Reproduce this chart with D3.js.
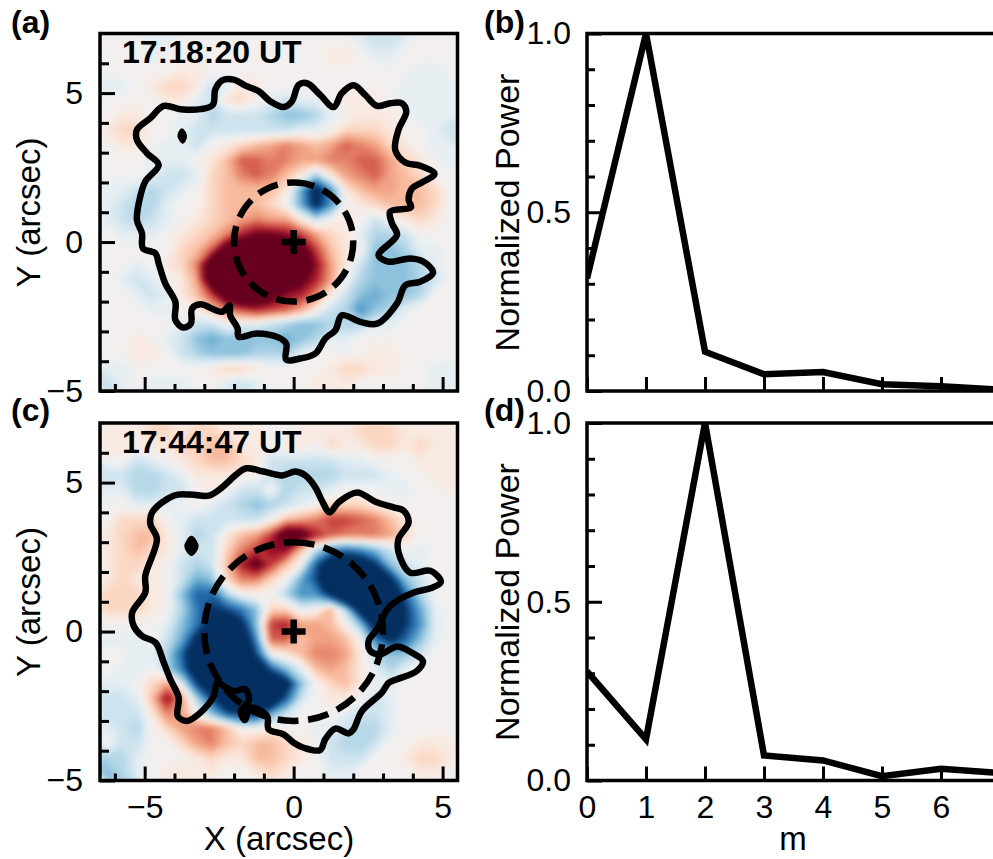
<!DOCTYPE html>
<html>
<head>
<meta charset="utf-8">
<script src="https://cdn.jsdelivr.net/npm/d3@7"></script>
<style>
html, body { margin: 0; padding: 0; background: #fff; overflow: hidden; }
text { font-family: "Liberation Sans", Arial, sans-serif; fill: #000; }
</style>
</head>
<body>
<script>
// intensity maps, tenths of full scale, 0.5 arcsec cells, top row first
var mapA = [
[ 0, 0, 0,-1,-1, 0, 0, 0, 0, 0, 0, 0, 0, 0, 0, 0, 0,-1,-2,-2,-1, 0, 0, 0],
[ 0, 0, 0,-1, 0, 0, 0, 0, 0, 0, 0, 0, 0, 0, 0, 1, 1, 0,-1,-1, 0, 0, 0, 0],
[ 0, 0, 0, 0, 0, 1, 1, 0, 0, 0, 0, 0, 0, 0, 0, 0, 0, 0, 0, 0, 0,-1,-1, 0],
[-1,-1, 0, 1, 2, 2, 1,-2,-1, 1, 1, 0, 0, 0, 0, 0, 0, 0, 0, 0,-1,-1,-1,-1],
[ 0, 0, 0, 0, 1, 1,-1,-2, 1, 2, 0,-1,-2,-1,-1, 0, 1, 1, 1, 0,-1,-1,-1,-1],
[ 0, 1, 1, 0, 0,-1,-1,-3,-2,-2,-2,-3,-4,-4,-3,-1, 0, 1, 1, 1, 0,-1,-1,-1],
[ 1, 2, 2, 0, 0,-1,-2,-2,-2,-2,-2,-2,-2,-1,-1, 0, 2, 2, 2, 1, 0, 0,-1,-2],
[ 0, 1, 1, 0,-1,-1,-2, 0, 1, 2, 3, 4, 5, 4, 3, 4, 6, 5, 4, 2, 1, 0,-1,-1],
[ 0, 0, 0,-1,-1,-1, 0, 1, 3, 6, 6, 5, 5, 4, 4, 5, 5, 6, 6, 4, 2, 1, 0,-1],
[ 0, 0, 0,-1,-2,-2,-1, 2, 3, 5, 6, 5, 3, 1,-3, 1, 4, 5, 6, 4, 3, 2, 0, 0],
[-1,-1,-2,-3,-2,-1, 0, 2, 3, 3, 3, 3, 1,-5,-12,-6, 1, 3, 4, 4, 3, 3, 2, 0],
[-1,-2,-3,-3,-1, 0, 0, 2, 3, 3, 3, 2, 0,-5,-11,-6, 0, 1, 2, 3, 3, 3, 2, 0],
[-1,-2,-3,-2,-1, 0, 1, 2, 3, 4, 5, 4, 4, 1,-2, 0, 1, 0,-2, 0, 1, 2, 1, 0],
[ 0,-1,-1,-1, 0, 1, 2, 3, 5, 8,10,10, 9, 7, 4, 2, 1,-1,-3,-3,-2, 0, 0, 0],
[ 0, 0, 0, 0, 0, 2, 3, 6,13,16,16,16,16,12, 7, 3, 1, 0,-4,-4,-3,-1,-1, 0],
[ 0, 0,-1, 0, 1, 2, 5,14,18,18,18,18,17,14, 9, 4, 1,-2,-4,-4,-4,-3,-1, 0],
[ 0,-1,-2,-1, 0, 1, 4,14,18,18,18,18,15,11, 8, 4, 0,-3,-4,-4,-4,-3,-2, 0],
[ 0, 0,-1,-2,-1, 1, 3, 7,14,16,15,12, 9, 8, 5, 1,-2,-4,-5,-4,-4,-3, 0, 0],
[ 0, 0, 0,-1,-1, 0, 1, 3, 5, 7, 8, 7, 6, 4, 1,-2,-3,-6,-4,-3,-1, 0, 0, 0],
[ 0, 0, 0, 0, 0,-1,-2,-2, 0,-1,-1,-2,-3,-4,-4,-3,-3,-3,-1,-1, 0, 0, 0, 0],
[ 0, 0, 1, 0,-1,-2,-4,-5,-4,-4,-4,-4,-5,-4,-3,-1,-1, 0, 0, 0, 0, 0, 0, 0],
[ 0, 0, 1, 1, 0,-2,-3,-4,-4,-4,-3,-3,-3,-1, 0, 0, 0, 0, 1, 1, 0, 0, 0, 0],
[-1,-1, 0, 0, 0, 0, 0, 1, 2, 2, 1, 0, 0, 0, 0, 1, 2, 2, 1, 1, 0, 0,-1,-1],
[-2,-1, 0,-1,-1,-1, 0, 0,-1,-2,-1, 0, 0, 0, 1, 1, 1, 0, 0, 0, 0, 0,-1,-1]
];
var mapC = [
[ 1, 1, 1, 2, 2, 1, 2, 2, 1, 1, 1, 0, 0, 1, 1, 1, 1, 2, 2, 2, 1, 1, 1, 1],
[ 1, 1, 1, 1, 1, 2, 2, 3, 3, 1, 1, 0, 1, 1, 0, 2, 1, 1, 2, 2, 1, 2, 1, 1],
[ 0, 0,-2,-1, 0, 1, 2, 3, 3, 2, 1,-2,-2,-2,-2,-2,-1,-1, 0, 0, 0, 1, 1, 1],
[-2,-2,-3,-3,-2,-1, 1, 1, 1, 1, 0,-2,-3,-3,-3,-3,-2,-2,-2,-1, 0, 0, 1, 1],
[-1,-1,-3,-3,-2,-2, 0, 1, 0,-2,-2, 0,-3,-2,-2,-1, 0, 0, 0,-1,-1, 0, 0, 1],
[ 0, 0,-1,-1,-1, 0, 0,-1,-2,-3,-4,-3,-2,-1, 0, 2, 2, 2, 1, 0, 0, 0, 0, 0],
[ 0, 2, 2, 2, 0,-1,-2,-2,-2,-2,-2, 0, 3, 4, 5, 7, 7, 6, 5, 3, 1, 0, 0, 0],
[ 1, 2, 3, 3, 1,-1,-3,-2, 1, 3, 4, 7,13,12, 8, 6, 5, 5, 5, 4, 2, 0, 0, 0],
[ 1, 2, 3, 2, 1,-1,-2,-2, 2, 5, 7, 9, 9, 3,-2,-6,-7,-6,-4,-2, 0,-1, 0, 0],
[ 1, 2, 2, 1, 0,-2,-3,-2, 3, 8,11, 7, 3, 0,-8,-14,-16,-14,-10,-4,-2,-1, 0, 0],
[ 1, 2, 1, 1, 0,-2,-5,-4, 2, 5, 5, 2, 0,-5,-9,-18,-20,-20,-18,-11,-4,-2, 0, 0],
[ 2, 2, 2, 1, 0,-4,-8,-8,-3, 0, 0, 0,-3,-6,-6,-11,-18,-20,-20,-16,-8,-3, 0, 0],
[ 2, 2, 2, 1, 0,-3,-7,-10,-9,-7,-4, 2, 2,-1, 0, 3,-3,-13,-20,-18,-10,-5,-1, 0],
[ 0, 0, 0, 0,-1,-4,-7,-12,-14,-11,-4, 7, 8, 4, 4, 3, 0,-4,-13,-16,-10,-6,-1, 0],
[-1,-1,-1, 0,-2,-5,-11,-17,-18,-15,-6, 6, 6, 3, 4, 4, 3, 0,-7,-11,-8,-4,-1, 0],
[ 0, 0,-1,-1,-3,-8,-15,-20,-16,-16,-9, 0, 1, 3, 5, 5, 4, 1,-3,-4,-4,-2, 0, 0],
[ 0,-1,-1, 0,-3,-7,-14,-20,-20,-20,-15,-8,-4,-1, 3, 4, 3, 1,-1,-3,-1, 0, 0, 0],
[-1,-1, 0, 2, 4,-1,-9,-17,-20,-20,-20,-18,-12,-4, 0, 2, 3, 1,-1,-1, 0, 0, 0, 0],
[-2,-2,-1, 3, 9, 4,-3,-9,-17,-20,-20,-16,-8,-2, 0, 1, 1, 0,-2,-1, 0, 0, 0, 0],
[-2,-2,-2, 1, 5, 4, 0,-4,-8,-10,-10,-5,-2, 0, 0, 0,-1,-2,-2,-1, 0, 0, 0, 0],
[-1,-2,-3, 0, 2, 4, 5, 5, 3, 0, 0, 1, 0, 0,-1,-1,-2,-3,-3,-1, 0, 0, 0, 0],
[ 0,-2,-2, 0, 0, 2, 4, 5, 3, 2, 3, 3, 2, 1, 0,-2,-3,-3,-2, 0, 0, 1, 1, 1],
[-3,-3,-1, 0, 0, 0, 1, 2, 1, 1, 3, 3, 2, 1, 0,-2,-2,-2, 0, 0, 1, 2, 2, 1],
[-4,-3,-1, 0, 1, 1, 1, 1, 0, 0, 1, 2, 1, 0, 0,-1,-1, 0, 0, 0, 0, 1, 1, 0]
];

// umbra outline, arcsec
var outlineA = [[-2.63,5.12],[-2.40,5.43],[-2.01,5.45],[-1.62,5.25],[-1.17,5.06],[-.78,4.72],[-.34,4.53],[-.06,4.72],[.17,5.28],[.45,5.33],[.89,4.94],[1.34,4.53],[1.62,5.0],[2.01,5.26],[2.40,4.94],[2.80,4.57],[3.24,4.66],[3.63,4.66],[3.78,4.38],[3.52,3.77],[3.41,3.09],[3.75,2.67],[4.25,2.56],[4.73,2.29],[4.36,2.03],[3.97,1.80],[3.86,1.41],[3.94,1.17],[3.24,1.02],[3.30,.63],[3.47,.24],[2.85,-.44],[3.19,-.66],[3.91,-.55],[4.36,-.66],[4.68,-1.03],[4.25,-1.33],[3.75,-1.45],[3.47,-2.06],[2.80,-2.74],[2.24,-2.68],[1.62,-2.46],[1.40,-2.96],[1.06,-3.24],[.73,-3.74],[.22,-3.91],[-.25,-3.95],[-.25,-3.41],[-.50,-3.21],[-1.23,-3.07],[-1.85,-3.18],[-1.88,-2.90],[-2.13,-2.46],[-2.15,-2.12],[-2.40,-2.34],[-3.13,-2.09],[-3.41,-2.23],[-3.45,-2.74],[-3.71,-2.87],[-3.97,-2.62],[-3.97,-2.01],[-4.31,-1.39],[-4.53,-.72],[-4.64,-.38],[-5.06,-.21],[-5.09,.29],[-5.26,.74],[-5.15,1.52],[-4.98,2.03],[-4.53,2.59],[-4.92,2.98],[-5.26,3.43],[-5.26,3.77],[-4.81,4.16],[-4.36,4.57],[-3.80,4.46],[-3.13,4.46],[-2.71,4.61]];
var outlineC = [[-4.75,4.0],[-4.03,4.56],[-3.47,4.60],[-2.85,4.56],[-2.40,4.84],[-1.96,5.24],[-1.59,5.48],[-1.01,5.37],[-.39,5.24],[.06,5.37],[.39,5.24],[.73,4.84],[.95,4.39],[1.21,4.0],[1.51,4.34],[2.13,4.67],[2.74,4.36],[3.36,4.17],[3.69,4.06],[3.86,3.67],[3.52,3.11],[3.52,2.66],[3.91,1.98],[4.59,2.04],[4.94,1.67],[4.59,1.45],[4.03,1.31],[3.24,.86],[3.02,.53],[2.80,.08],[2.52,-.31],[2.57,-.65],[2.91,-.76],[3.47,-.50],[3.97,-.71],[4.34,-.99],[4.14,-1.32],[3.47,-1.60],[3.19,-1.72],[2.96,-2.05],[2.29,-2.67],[2.01,-3.28],[1.85,-3.42],[1.40,-3.26],[1.06,-3.62],[.89,-3.98],[.34,-3.90],[0,-3.73],[-.34,-3.45],[-.84,-3.28],[-.89,-2.84],[-1.45,-2.56],[-1.64,-2.97],[-1.77,-2.67],[-1.51,-2.33],[-1.62,-1.94],[-2.01,-2.0],[-2.35,-1.83],[-2.57,-1.72],[-2.68,-2.16],[-3.13,-2.72],[-3.58,-3.0],[-3.89,-2.84],[-3.86,-2.22],[-4.14,-1.60],[-4.36,-1.04],[-4.64,-.37],[-5.09,-.15],[-5.37,.19],[-5.42,.64],[-4.98,1.31],[-4.98,1.87],[-4.59,3.11],[-4.81,3.61]];
var spotA = [[-3.75,3.78],[-3.62,3.56],[-3.72,3.34],[-3.86,3.56]];
var spotC = [[-3.43,3.17],[-3.23,2.86],[-3.43,2.58],[-3.63,2.86]];

// normalized power against mode number
var modes = [0, 1, 2, 3, 4, 5, 6, 7];
var powerB = [0.315, 1.0, 0.11, 0.047, 0.053, 0.019, 0.013, 0.004];
var powerD = [0.305, 0.115, 1.0, 0.07, 0.056, 0.012, 0.033, 0.021];

var modeTicks = [0, 1, 2, 3, 4, 5, 6];
var mapXTicks = [-5, 0, 5];
var mapXMinor = [-6, -4, -3, -2, -1, 1, 2, 3, 4];
var mapYTicks = [-5, 0, 5];
var mapYMinor = [-4, -3, -2, -1, 1, 2, 3, 4, 6];
var powerYTicks = [0, 0.5, 1];
var powerYMinor = [0.1, 0.2, 0.3, 0.4, 0.6, 0.7, 0.8, 0.9];

var FONT = 32;
var svg = d3.select("body").append("svg")
    .attr("width", 993).attr("height", 859)
    .style("display", "block");
var defs = svg.append("defs");
defs.append("filter").attr("id", "soft")
    .attr("x", "-5%").attr("y", "-5%").attr("width", "110%").attr("height", "110%")
    .attr("color-interpolation-filters", "sRGB")
    .append("feGaussianBlur").attr("stdDeviation", 2.4);

var color = d3.scaleSequential(function(t) { return d3.interpolateRdBu(1 - t); })
    .domain([-1, 1]).clamp(true);
var minus = function(d) { return String(d).replace("-", "\u2212"); };

function styleAxis(g, size) {
    g.select(".domain").remove();
    g.selectAll("line").attr("stroke", "#000").attr("stroke-width", 3);
    g.selectAll("text").style("font-size", size + "px").style("font-family", '"Liberation Sans"');
}

function mapPanel(id, top, grid, outline, spot, radius, stamp, showX) {
    var x = d3.scaleLinear().domain([-6.5, 5.5]).range([100, 457.5]);
    var y = d3.scaleLinear().domain([-5, 7]).range([top + 357.5, top]);
    var g = svg.append("g");

    defs.append("clipPath").attr("id", "clip" + id)
        .append("rect").attr("x", 100).attr("y", top).attr("width", 357.5).attr("height", 357.5);

    // filled bands of the map, grid units go through the same scales
    var nx = grid[0].length, ny = grid.length;
    var gx = d3.scaleLinear().domain([0, nx]).range([-6.5, 5.5]);
    var gy = d3.scaleLinear().domain([0, ny]).range([7, -5]);
    var path = d3.geoPath(d3.geoTransform({
        point: function(a, b) { this.stream.point(x(gx(a)), y(gy(b))); }
    }));
    var values = grid.flat().map(function(v) { return v / 10; });
    var levels = d3.range(-2.1, 2.1, 0.04);
    var contours = d3.contours().size([nx, ny]).smooth(true).thresholds(levels)(values);

    var clip = g.append("g").attr("clip-path", "url(#clip" + id + ")");
    clip.append("rect").attr("x", 100).attr("y", top).attr("width", 357.5).attr("height", 357.5)
        .attr("fill", color(0));
    clip.append("g").attr("filter", "url(#soft)")
        .selectAll("path").data(contours).enter().append("path")
        .attr("d", path)
        .attr("fill", function(d) { return color(d.value + 0.02); });

    var closed = d3.line().x(function(d) { return x(d[0]); }).y(function(d) { return y(d[1]); })
        .curve(d3.curveCatmullRomClosed.alpha(0.5));
    clip.append("path").attr("d", closed(outline))
        .attr("fill", "none").attr("stroke", "#000").attr("stroke-width", 6.5).attr("stroke-linejoin", "round");
    clip.append("path").attr("d", closed(spot))
        .attr("fill", "#000").attr("stroke", "#000").attr("stroke-width", 2.5);

    // dashed ring and centre mark
    clip.append("circle")
        .attr("cx", x(0)).attr("cy", y(0)).attr("r", x(radius) - x(0))
        .attr("transform", "rotate(-90 " + x(0) + " " + y(0) + ")")
        .attr("fill", "none").attr("stroke", "#000").attr("stroke-width", 6.5)
        .attr("stroke-dasharray", "21 9.6");
    clip.append("path")
        .attr("d", "M" + (x(0) - 12) + "," + y(0) + "H" + (x(0) + 12) + "M" + x(0) + "," + (y(0) - 12) + "V" + (y(0) + 12))
        .attr("stroke", "#000").attr("stroke-width", 6.5);

    g.append("g").attr("transform", "translate(100,0)")
        .call(d3.axisLeft(y).tickValues(mapYMinor).tickSize(-9).tickFormat(""))
        .call(styleAxis, FONT);
    g.append("g").attr("transform", "translate(100,0)")
        .call(d3.axisLeft(y).tickValues(mapYTicks).tickSize(-15).tickPadding(17).tickFormat(minus))
        .call(styleAxis, FONT);
    g.append("g").attr("transform", "translate(0," + (top + 357.5) + ")")
        .call(d3.axisBottom(x).tickValues(mapXMinor).tickSize(-7).tickFormat(""))
        .call(styleAxis, FONT);
    g.append("g").attr("transform", "translate(0," + (top + 357.5) + ")")
        .call(d3.axisBottom(x).tickValues(mapXTicks).tickSize(-14).tickPadding(15).tickFormat(showX ? minus : ""))
        .call(styleAxis, FONT);

    g.append("rect").attr("x", 100).attr("y", top).attr("width", 357.5).attr("height", 357.5)
        .attr("fill", "none").attr("stroke", "#000").attr("stroke-width", 3.5);

    g.append("text").attr("x", 122).attr("y", top + 29.5)
        .style("font-size", FONT + "px").style("font-weight", "bold").text(stamp);
    g.append("text")
        .attr("transform", "translate(40," + (top + 179) + ") rotate(-90)")
        .attr("text-anchor", "middle").style("font-size", "33px").text("Y (arcsec)");
    if (showX) {
        g.append("text").attr("x", 279).attr("y", 850)
            .attr("text-anchor", "middle").style("font-size", "33px").text("X (arcsec)");
    }
}

function powerPanel(id, top, power, showX) {
    var x = d3.scaleLinear().domain([0, 7]).range([587, 1000]);
    var y = d3.scaleLinear().domain([0, 1]).range([top + 357.5, top]);
    var g = svg.append("g");

    defs.append("clipPath").attr("id", "clip" + id)
        .append("rect").attr("x", 587).attr("y", top).attr("width", 413).attr("height", 357.5);

    var line = d3.line()
        .x(function(d, i) { return x(modes[i]); })
        .y(function(d) { return y(d); });
    g.append("path").attr("d", line(power))
        .attr("clip-path", "url(#clip" + id + ")")
        .attr("fill", "none").attr("stroke", "#000").attr("stroke-width", 6.5);

    g.append("g").attr("transform", "translate(587,0)")
        .call(d3.axisLeft(y).tickValues(powerYMinor).tickSize(-8).tickFormat(""))
        .call(styleAxis, FONT);
    g.append("g").attr("transform", "translate(587,0)")
        .call(d3.axisLeft(y).tickValues(powerYTicks).tickSize(-15).tickPadding(16).tickFormat(d3.format(".1f")))
        .call(styleAxis, FONT);
    g.append("g").attr("transform", "translate(0," + (top + 357.5) + ")")
        .call(d3.axisBottom(x).tickValues(modeTicks).tickSize(-14).tickPadding(15).tickFormat(showX ? d3.format("d") : ""))
        .call(styleAxis, FONT);

    g.append("rect").attr("x", 587).attr("y", top).attr("width", 413).attr("height", 357.5)
        .attr("fill", "none").attr("stroke", "#000").attr("stroke-width", 3.5);

    g.append("text")
        .attr("transform", "translate(519," + (top + 179) + ") rotate(-90)")
        .attr("text-anchor", "middle").style("font-size", "34px").text("Normalized Power");
    if (showX) {
        g.append("text").attr("x", 793).attr("y", 850)
            .attr("text-anchor", "middle").style("font-size", "33px").text("m");
    }
}

mapPanel("A", 33.5, mapA, outlineA, spotA, 2, "17:18:20 UT", false);
powerPanel("B", 33.5, powerB, false);
mapPanel("C", 423, mapC, outlineC, spotC, 3, "17:44:47 UT", true);
powerPanel("D", 423, powerD, true);

var letters = [["(a)", 11, 33], ["(b)", 484, 33], ["(c)", 11, 421], ["(d)", 484, 421]];
svg.selectAll("text.letter").data(letters).enter().append("text")
    .attr("class", "letter")
    .attr("x", function(d) { return d[1]; })
    .attr("y", function(d) { return d[2]; })
    .style("font-size", FONT + "px").style("font-weight", "bold")
    .text(function(d) { return d[0]; });
</script>
</body>
</html>
